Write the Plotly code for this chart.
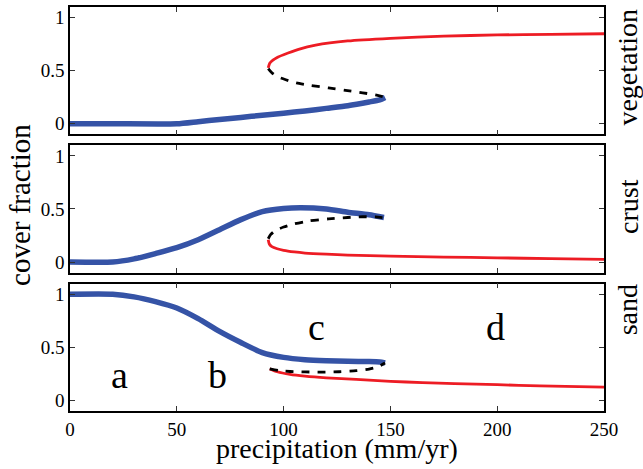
import plotly.graph_objects as go

# ---------------- data ----------------
# vegetation panel
veg_blue_x = [0, 20, 50, 60, 70, 80, 90, 100, 110, 120, 130, 140, 145, 147.5]
veg_blue_y = [0, 0, 0, 0.02, 0.04, 0.06, 0.08, 0.10, 0.12, 0.145, 0.17, 0.205, 0.225, 0.248]
veg_red_x = [92.8, 93.5, 95, 97, 100, 107, 115, 130, 150, 175, 200, 225, 250]
veg_red_y = [0.526, 0.57, 0.60, 0.625, 0.65, 0.70, 0.74, 0.78, 0.805, 0.825, 0.837, 0.843, 0.848]
veg_dash_x = [92.8, 94.5, 97, 101, 106, 113, 121, 129, 137, 144, 147.5]
veg_dash_y = [0.52, 0.48, 0.445, 0.415, 0.385, 0.36, 0.338, 0.315, 0.292, 0.268, 0.25]

# crust panel
crust_blue_x = [0, 20, 30, 40, 50, 60, 70, 80, 90, 100, 108, 120, 130, 140, 147]
crust_blue_y = [0, 0, 0.03, 0.08, 0.135, 0.21, 0.305, 0.40, 0.475, 0.505, 0.512, 0.50, 0.47, 0.445, 0.42]
crust_red_x = [92.8, 93.3, 94.5, 97, 100, 105, 110, 120, 130, 150, 175, 200, 225, 250]
crust_red_y = [0.21, 0.17, 0.145, 0.125, 0.11, 0.095, 0.085, 0.074, 0.066, 0.055, 0.047, 0.04, 0.032, 0.025]
crust_dash_x = [92.8, 94, 96, 100, 105, 112, 121, 130, 137, 143, 147]
crust_dash_y = [0.22, 0.26, 0.295, 0.33, 0.36, 0.388, 0.407, 0.42, 0.427, 0.425, 0.418]

# sand panel
sand_blue_x = [0, 20, 30, 40, 50, 60, 70, 80, 90, 100, 110, 120, 130, 140, 145, 147.5]
sand_blue_y = [1, 1, 0.975, 0.93, 0.87, 0.77, 0.65, 0.545, 0.45, 0.405, 0.383, 0.373, 0.368, 0.366, 0.362, 0.352]
sand_red_x = [93.5, 97, 103, 110, 120, 134, 150, 165, 180, 200, 220, 250]
sand_red_y = [0.297, 0.27, 0.245, 0.228, 0.212, 0.197, 0.18, 0.167, 0.158, 0.148, 0.137, 0.125]
sand_dash_x = [93.5, 98, 103, 110, 118, 126, 134, 140, 144, 147.5]
sand_dash_y = [0.297, 0.28, 0.272, 0.268, 0.266, 0.27, 0.28, 0.295, 0.315, 0.352]

panel_labels = ["vegetation", "crust", "sand"]
region_letters = ["a", "b", "c", "d"]
region_x = [23.4, 69, 115.5, 199.3]
region_y = [0.236, 0.236, 0.69, 0.69]

x_ticks = [0, 50, 100, 150, 200, 250]
y_ticks = [0, 0.5, 1]
y_tick_text = ["0", "0.5", "1"]

# ---------------- figure ----------------
BLUE = "#3553a6"
RED = "#ed1c24"
FONT = "Liberation Serif, serif"

fig = go.Figure()

panels = [
    (veg_blue_x, veg_blue_y, veg_red_x, veg_red_y, veg_dash_x, veg_dash_y),
    (crust_blue_x, crust_blue_y, crust_red_x, crust_red_y, crust_dash_x, crust_dash_y),
    (sand_blue_x, sand_blue_y, sand_red_x, sand_red_y, sand_dash_x, sand_dash_y),
]
domains = [[0.6847, 1.0], [0.3424, 0.6576], [0.0, 0.3153]]

for i, (bx, by, rx, ry, dx, dy) in enumerate(panels):
    xa = "x" if i == 0 else f"x{i+1}"
    ya = "y" if i == 0 else f"y{i+1}"
    fig.add_trace(go.Scatter(x=bx, y=by, mode="lines", xaxis=xa, yaxis=ya,
                             line=dict(color=BLUE, width=5.5, shape="spline", smoothing=0.6),
                             showlegend=False, hoverinfo="skip"))
    fig.add_trace(go.Scatter(x=rx, y=ry, mode="lines", xaxis=xa, yaxis=ya,
                             line=dict(color=RED, width=2.8, shape="spline", smoothing=0.6),
                             showlegend=False, hoverinfo="skip"))
    fig.add_trace(go.Scatter(x=dx, y=dy, mode="lines", xaxis=xa, yaxis=ya,
                             line=dict(color="black", width=2.8, dash="8px,8px", shape="spline", smoothing=0.6),
                             showlegend=False, hoverinfo="skip"))

axis_common = dict(showline=True, linecolor="black", linewidth=1.5, mirror="ticks",
                   ticks="inside", ticklen=5, tickwidth=1, tickcolor="#333",
                   showgrid=False, zeroline=False,
                   tickfont=dict(family=FONT, size=19, color="black"))

layout = dict(
    width=643, height=469,
    margin=dict(l=70, r=39, t=5, b=58),
    paper_bgcolor="white", plot_bgcolor="white",
    font=dict(family=FONT, color="black"),
    modebar=dict(bgcolor="rgba(0,0,0,0)", color="rgba(0,0,0,0)", activecolor="rgba(0,0,0,0)"),
)
for i in range(3):
    xk = "xaxis" if i == 0 else f"xaxis{i+1}"
    yk = "yaxis" if i == 0 else f"yaxis{i+1}"
    ya = "y" if i == 0 else f"y{i+1}"
    xa = "x" if i == 0 else f"x{i+1}"
    layout[xk] = dict(axis_common, range=[0, 250], tickvals=x_ticks, anchor=ya,
                      domain=[0, 1], showticklabels=(i == 2))
    layout[yk] = dict(axis_common, range=[-0.1, 1.1], tickvals=y_ticks, ticktext=y_tick_text,
                      anchor=xa, domain=domains[i])
fig.update_layout(**layout)

ann = []
ann.append(dict(text="cover fraction", x=-0.0936, y=0.51, xref="paper", yref="paper",
                xanchor="center", yanchor="middle",
                textangle=-90, showarrow=False, font=dict(family=FONT, size=29)))
ann.append(dict(text="precipitation (mm/yr)", x=0.5006, y=-0.093, xref="paper", yref="paper",
                xanchor="center", yanchor="middle",
                showarrow=False, font=dict(family=FONT, size=28)))
label_y = [0.852, 0.507, 0.251]
for lab, ly in zip(panel_labels, label_y):
    ann.append(dict(text=lab, x=1.0445, y=ly, xref="paper", yref="paper", textangle=-90,
                    xanchor="center", yanchor="middle",
                    showarrow=False, font=dict(family=FONT, size=28)))
for t, lx, ly in zip(region_letters, region_x, region_y):
    ann.append(dict(text=t, x=lx, y=ly, xref="x3", yref="y3", showarrow=False,
                    xanchor="center", yanchor="middle",
                    font=dict(family=FONT, size=38)))
fig.update_layout(annotations=ann)

fig.write_html("out.html", config={"displaylogo": False},
               post_script="document.body.style.margin='0';document.body.style.padding='0';")
